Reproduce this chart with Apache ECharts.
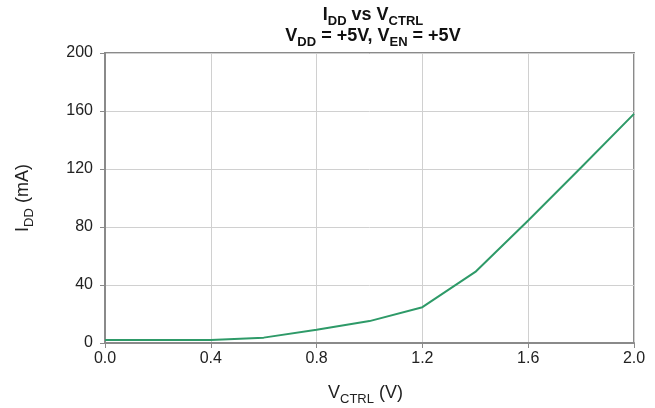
<!DOCTYPE html>
<html><head><meta charset="utf-8">
<script src="https://cdn.jsdelivr.net/npm/echarts@6/dist/echarts.min.js"></script>
<style>html,body{margin:0;padding:0;background:#fff}#c{width:655px;height:408px}</style>
</head><body><div id="c"></div>
<script>
var vctrl = [0.0, 0.2, 0.4, 0.6, 0.8, 1.0, 1.2, 1.4, 1.6, 1.8, 2.0];
var idd = [2.0, 2.0, 2.0, 3.7, 9.2, 15.1, 24.7, 49, 84.5, 121, 158];
var xTicks = [0, 0.4, 0.8, 1.2, 1.6, 2.0];
var yTicks = [0, 40, 80, 120, 160, 200];

var FONT = '"Liberation Sans", Arial, sans-serif';
var chart = echarts.init(document.getElementById('c'), null, {renderer: 'canvas'});
var data = vctrl.map(function (v, i) { return [v, idd[i]]; });
chart.setOption({
  animation: false,
  textStyle: {fontFamily: FONT},
  title: {
    text: '{b|I}{s|DD}{b| vs V}{s|CTRL}\n{b|V}{s|DD}{b| = +5V, V}{s|EN}{b| = +5V}',
    left: 368, top: -2, textAlign: 'center',
    textStyle: {
      rich: {
        b: {fontFamily: FONT, fontSize: 18, fontWeight: 'bold', color: '#111', lineHeight: 21, verticalAlign: 'bottom'},
        s: {fontFamily: FONT, fontSize: 13, fontWeight: 'bold', color: '#111', lineHeight: 21, verticalAlign: 'bottom', padding: [0, 0, -4, 0]}
      }
    }
  },
  grid: {left: 105, right: 21, top: 53, bottom: 65, outerBoundsMode: 'none', show: true, borderColor: '#8a8a8a', borderWidth: 2, backgroundColor: 'transparent'},
  xAxis: {
    type: 'value', min: 0, max: 2, interval: 0.4,
    name: '{n|V}{s|CTRL}{n| (V)}', nameLocation: 'middle', nameGap: 38,
    nameTextStyle: {padding: [0, 8, 0, 0], rich: {
      n: {fontFamily: FONT, fontSize: 18, color: '#222', verticalAlign: 'bottom', lineHeight: 21},
      s: {fontFamily: FONT, fontSize: 13, color: '#222', verticalAlign: 'bottom', lineHeight: 21, padding: [0, 0, -4, 0]}
    }},
    axisLine: {show: true, lineStyle: {color: '#8a8a8a', width: 2}},
    axisTick: {show: true, length: 5, lineStyle: {color: '#8a8a8a', width: 1}},
    axisLabel: {fontFamily: FONT, fontSize: 16, color: '#222', margin: 8, formatter: function (v) { return v.toFixed(1); }},
    splitLine: {show: true, lineStyle: {color: '#d0d0d0', width: 1}}
  },
  yAxis: {
    type: 'value', min: 0, max: 200, interval: 40,
    name: '{n|I}{s|DD}{n| (mA)}', nameLocation: 'middle', nameGap: 73, nameRotate: 90,
    nameTextStyle: {rich: {
      n: {fontFamily: FONT, fontSize: 18, color: '#222', verticalAlign: 'bottom', lineHeight: 21},
      s: {fontFamily: FONT, fontSize: 13, color: '#222', verticalAlign: 'bottom', lineHeight: 21, padding: [0, 0, -4, 0]}
    }},
    axisLine: {show: true, lineStyle: {color: '#8a8a8a', width: 2}},
    axisTick: {show: true, length: 5, lineStyle: {color: '#8a8a8a', width: 1}},
    axisLabel: {fontFamily: FONT, fontSize: 16, color: '#222', margin: 12},
    splitLine: {show: true, lineStyle: {color: '#d0d0d0', width: 1}}
  },
  series: [{
    type: 'line', data: data, showSymbol: false, symbol: 'none',
    lineStyle: {color: '#2e9a68', width: 2}, clip: true
  }]
});
</script></body></html>
